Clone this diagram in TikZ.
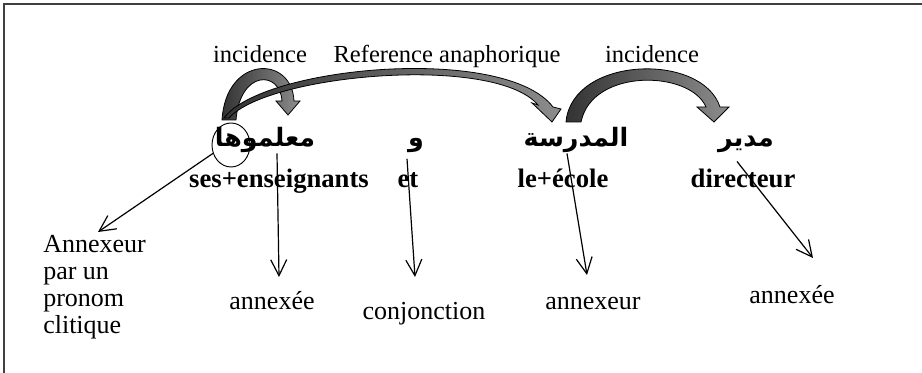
\documentclass[tikz,border=0pt]{standalone}
\usepackage{fontspec}
\setmainfont{Liberation Serif}
\newfontfamily\arabicfont[Script=Arabic]{DejaVu Sans}
\TeXXeTstate=1
\usetikzlibrary{arrows.meta,shapes.geometric}

\begin{document}
\begin{tikzpicture}[x=0.75pt, y=-0.75pt]
  \tikzset{
    word/.style={inner sep=0pt, anchor=base, font=\arabicfont\bfseries\fontsize{19}{21}\selectfont},
    gloss/.style={inner sep=0pt, anchor=base, font=\bfseries\fontsize{20}{22}\selectfont},
    role/.style={inner sep=0pt, anchor=base, font=\fontsize{19.5}{20.3}\selectfont},
    relation/.style={inner sep=0pt, anchor=base, font=\fontsize{18.4}{20}\selectfont},
    link/.style={line width=0.9pt, -{Straight Barb[length=12pt,width=12pt]}},
    bent_arrow/.style={draw=black, line width=0.6pt, shading=axis, left color=black!80, right color=black!45},
  }
  \useasboundingbox (0,0) rectangle (922,373);

  % frame
  \draw[line width=1.3pt, black!75] (4,373) -- (4,4) -- (922,4);

  % arabic words
  \node[word] (mualimuha) at (265,147) {\beginR معلموها\endR};
  \node[word] (wa) at (416,147) {\beginR و\endR};
  \node[word] (madrasa) at (576,147) {\beginR المدرسة\endR};
  \node[word] (mudir) at (746,147) {\beginR مدير\endR};
  \node[draw, ellipse, line width=0.7pt, minimum width=28.5pt, minimum height=33pt, inner sep=0pt] (clitic) at (231,145) {};

  % glosses
  \node[gloss] (gl_mu) at (279,188) {ses+enseignants};
  \node[gloss] (gl_wa) at (408,188) {et};
  \node[gloss] (gl_madrasa) at (563,188) {le+école};
  \node[gloss] (gl_mudir) at (743,188) {directeur};

  % relations
  \node[relation] (incid_a) at (260,63) {incidence};
  \node[relation] (anaph) at (447,63) {Reference anaphorique};
  \node[relation] (incid_b) at (652,63) {incidence};

  % bent arrows
  \path[bent_arrow] (222,120) .. controls (226,55) and (292,55) .. (294,101)
    -- (300,101) -- (288,115) -- (276,101) -- (282,101)
    .. controls (280,70) and (240,70) .. (236,120) -- cycle;
  \path[bent_arrow] (224,118) .. controls (262,66) and (505,44) .. (553,107)
    -- (561,109) -- (552,122) -- (532,103) -- (538,105)
    .. controls (495,54) and (268,74) .. (229,118) -- cycle;
  \path[bent_arrow] (566,122) .. controls (572,56) and (702,52) .. (720,107)
    -- (729,107) -- (714,122) -- (697,107) -- (706,107)
    .. controls (690,70) and (592,68) .. (581,122) -- cycle;

  % roles
  \node[role, anchor=north west, align=left] (role_clitic) at (43,235) {Annexeur\\par un\\pronom\\clitique};
  \node[role] (role_mu) at (272,310) {annexée};
  \node[role] (role_wa) at (424,320) {conjonction};
  \node[role] (role_madrasa) at (593,310) {annexeur};
  \node[role] (role_mudir) at (792,304) {annexée};

  % arrow tips
  \coordinate (tip_clitic) at (98,232);
  \coordinate (tip_mu) at (279,277);
  \coordinate (tip_wa) at (415,277);
  \coordinate (tip_madrasa) at (587,275);
  \coordinate (tip_mudir) at (813,258);

  % links
  \draw[link] (clitic.205) -- (tip_clitic);
  \draw[link] ([xshift=9pt]mualimuha.south) -- (tip_mu);
  \draw[link] ([xshift=-6.75pt,yshift=-4pt]wa.south) -- (tip_wa);
  \draw[link] ([xshift=-6.75pt]madrasa.south) -- (tip_madrasa);
  \draw[link] ([xshift=-6.75pt,yshift=-6pt]mudir.south) -- (tip_mudir);
\end{tikzpicture}
\end{document}
